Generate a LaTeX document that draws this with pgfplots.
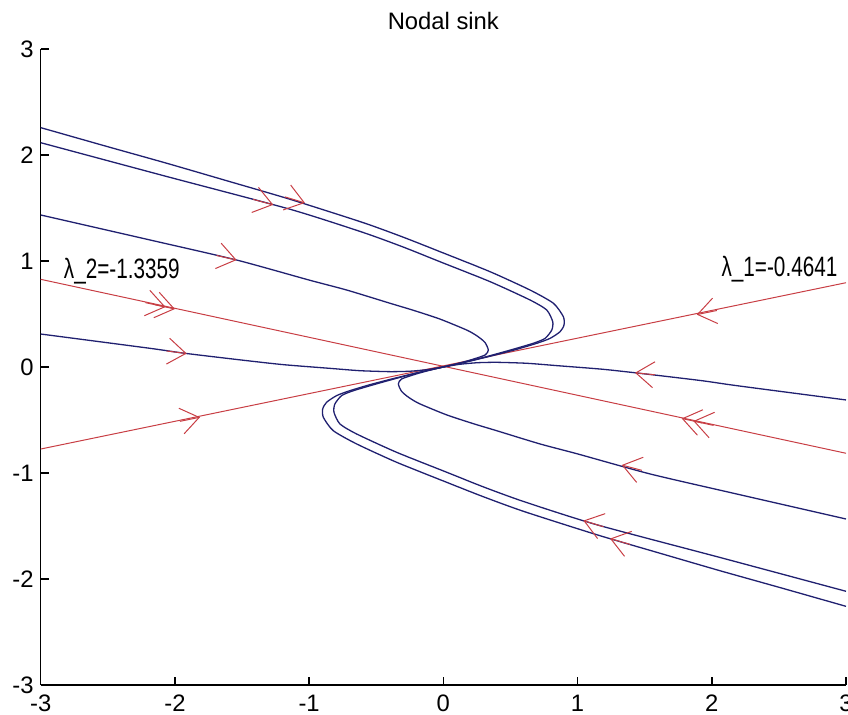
\documentclass[border=0pt]{standalone}
\usepackage{pgfplots}
\pgfplotsset{compat=1.18}
\usepackage{pgfplotstable}
\usepackage{fontspec}
\setmainfont{Liberation Sans}
\newfontfamily\condfont{Liberation Sans}[FakeStretch=0.74]
\usetikzlibrary{arrows.meta}
\definecolor{trajblue}{RGB}{32,32,112}
\definecolor{eigred}{RGB}{200,62,68}

\pgfplotstableread{
x y
-3 2.258
-2.5 2.078
-2.061 1.922
-1.6 1.752
-1.142 1.582
-0.6 1.363
-0.3 1.225
-0.025 1.088
0.348 0.899
0.646 0.726
0.820 0.601
0.894 0.475
0.899 0.396
0.870 0.333
0.795 0.270
0.70 0.225
0.55 0.168
0.40 0.118
0.20 0.056
0 0
}\curveA
\pgfplotstableread{
x y
-3 2.116
-2.07 1.800
-1.142 1.488
-0.6 1.270
-0.3 1.132
-0.025 0.993
0.348 0.805
0.646 0.632
0.770 0.538
0.815 0.427
0.808 0.349
0.758 0.270
0.671 0.224
0.5 0.16
0.3 0.09
0.15 0.042
0 0
}\curveB
\pgfplotstableread{
x y
-3 1.434
-2.185 1.198
-1.540 1.009
-1.0 0.82
-0.72 0.726
-0.397 0.601
-0.224 0.535
-0.025 0.452
0.18 0.345
0.26 0.285
0.311 0.230
0.335 0.160
0.311 0.113
0.2 0.065
0.1 0.030
0 0
}\curveC
\pgfplotstableread{
x y
-3 0.311
-2.185 0.176
-1.925 0.129
-1.5 0.065
-1.192 0.022
-0.844 -0.013
-0.621 -0.035
-0.397 -0.044
-0.25 -0.040
-0.12 -0.025
0 0
}\curveD
\pgfplotstableread{
x y
3 -2.258
2.5 -2.078
2.061 -1.922
1.6 -1.752
1.142 -1.582
0.6 -1.363
0.3 -1.225
0.025 -1.088
-0.348 -0.899
-0.646 -0.726
-0.820 -0.601
-0.894 -0.475
-0.899 -0.396
-0.870 -0.333
-0.795 -0.270
-0.70 -0.225
-0.55 -0.168
-0.40 -0.118
-0.20 -0.056
0 0
}\curveAm
\pgfplotstableread{
x y
3 -2.116
2.07 -1.800
1.142 -1.488
0.6 -1.270
0.3 -1.132
0.025 -0.993
-0.348 -0.805
-0.646 -0.632
-0.770 -0.538
-0.815 -0.427
-0.808 -0.349
-0.758 -0.270
-0.671 -0.224
-0.5 -0.16
-0.3 -0.09
-0.15 -0.042
0 0
}\curveBm
\pgfplotstableread{
x y
3 -1.434
2.185 -1.198
1.540 -1.009
1.0 -0.82
0.72 -0.726
0.397 -0.601
0.224 -0.535
0.025 -0.452
-0.18 -0.345
-0.26 -0.285
-0.311 -0.230
-0.335 -0.160
-0.311 -0.113
-0.2 -0.065
-0.1 -0.030
0 0
}\curveCm
\pgfplotstableread{
x y
3 -0.311
2.185 -0.176
1.925 -0.129
1.5 -0.065
1.192 -0.022
0.844 0.013
0.621 0.035
0.397 0.044
0.25 0.040
0.12 0.025
0 0
}\curveDm

\begin{document}
\begin{tikzpicture}
\begin{axis}[
  name=ax,
  scale only axis,
  width=402.65pt, height=318pt,
  xmin=-3, xmax=3, ymin=-3, ymax=3,
  axis lines*=left,
  axis line style={line width=0.8pt},
  tick align=inside,
  major tick length=4.2pt,
  tick style={line width=0.8pt, black},
  xtick={-3,-2,-1,0,1,2,3},
  xticklabels={-3,-2,-1,0,1,2,3},
  ytick={-3,-2,-1,0,1,2,3},
  yticklabels={-3,-2,-1,0,1,2,3},
  tick label style={font=\fontsize{11.9}{14}\selectfont},
  xticklabel style={yshift=-1.5pt},
  title={Nodal sink},
  title style={at={(0.5,1)}, anchor=base, yshift=3.5pt, font=\fontsize{11.9}{14}\selectfont},
  clip=true,
  traj/.style={trajblue, line width=0.65pt, smooth, tension=0.4},
  arr/.style={eigred, line width=0.5pt, -{Straight Barb[length=9pt,width=13pt]}},
]
% eigenvector lines
\addplot[eigred, line width=0.5pt] coordinates {(-3,-0.774) (3,0.795)};
\addplot[eigred, line width=0.5pt] coordinates {(-3,0.827) (3,-0.814)};
% trajectories
\addplot[traj] table[x=x,y=y] {\curveA};
\addplot[traj] table[x=x,y=y] {\curveB};
\addplot[traj] table[x=x,y=y] {\curveC};
\addplot[traj] table[x=x,y=y] {\curveD};
\addplot[traj] table[x=x,y=y] {\curveAm};
\addplot[traj] table[x=x,y=y] {\curveBm};
\addplot[traj] table[x=x,y=y] {\curveCm};
\addplot[traj] table[x=x,y=y] {\curveDm};
% arrowheads
\addplot[arr] coordinates {(-1.181,1.605) (-1.031,1.548)};
\addplot[arr] coordinates {(-1.417,1.581) (-1.267,1.530)};
\addplot[arr] coordinates {(-1.690,1.052) (-1.540,1.009)};
\addplot[arr] coordinates {(-2.150,0.588) (-2.000,0.547)};
\addplot[arr] coordinates {(-2.220,0.607) (-2.070,0.566)};
\addplot[arr] coordinates {(-2.062,0.151) (-1.912,0.127)};
\addplot[arr] coordinates {(-1.963,-0.513) (-1.813,-0.474)};
\addplot[arr] coordinates {(2.038,0.533) (1.888,0.494)};
\addplot[arr] coordinates {(1.578,-0.074) (1.428,-0.055)};
\addplot[arr] coordinates {(1.926,-0.527) (1.776,-0.486)};
\addplot[arr] coordinates {(2.013,-0.551) (1.863,-0.510)};
\addplot[arr] coordinates {(1.479,-0.975) (1.329,-0.925)};
\addplot[arr] coordinates {(1.193,-1.507) (1.043,-1.449)};
\addplot[arr] coordinates {(1.392,-1.674) (1.242,-1.619)};
% labels
\node[anchor=west, inner sep=0pt, font=\condfont\fontsize{14}{16}\selectfont] at (axis cs:-2.83,0.90) {λ\_2=-1.3359};
\node[anchor=west, inner sep=0pt, font=\condfont\fontsize{14}{16}\selectfont] at (axis cs:2.07,0.92) {λ\_1=-0.4641};
\end{axis}
\pgfresetboundingbox
\path ([shift={(-20.35pt,-15pt)}]ax.south west) rectangle ([shift={(403.65pt,342.5pt)}]ax.south west);
\end{tikzpicture}
\end{document}
